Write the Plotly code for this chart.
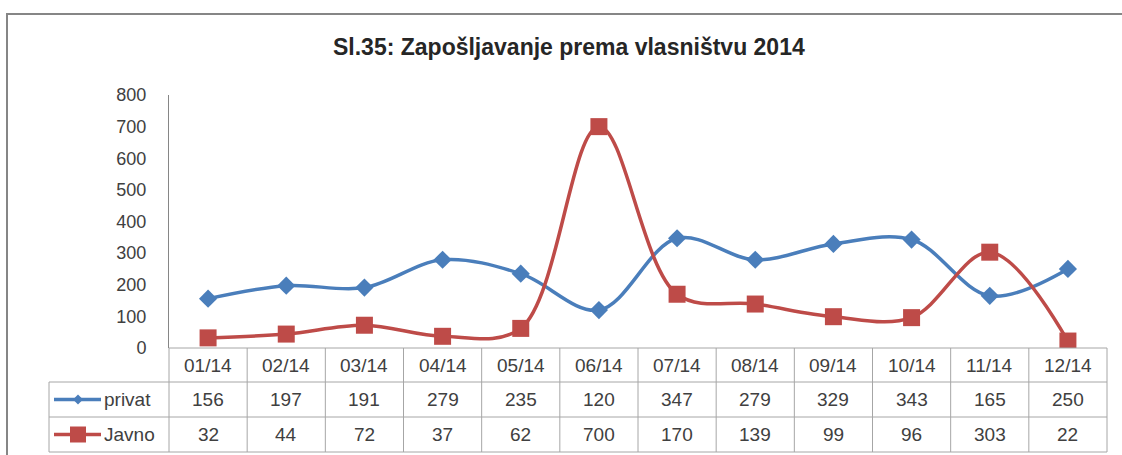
import plotly.graph_objects as go

categories = ["01/14", "02/14", "03/14", "04/14", "05/14", "06/14",
              "07/14", "08/14", "09/14", "10/14", "11/14", "12/14"]
privat = [156, 197, 191, 279, 235, 120, 347, 279, 329, 343, 165, 250]
javno = [32, 44, 72, 37, 62, 700, 170, 139, 99, 96, 303, 22]
series_names = ["privat", "Javno"]
y_ticks = [0, 100, 200, 300, 400, 500, 600, 700, 800]

W, H = 1122, 455
PL, PR, PT, PB = 169, 1107, 95, 348  # plot area pixels
BLUE = "#4A7EBB"
RED = "#BE4B48"
GRID = "#A6A6A6"
TXT = "#404040"
FONT = "Liberation Sans"


def px_x(px):
    return (px - PL) / (PR - PL)


def px_y(py):
    return (PB - py) / (PB - PT)


fig = go.Figure()
fig.add_trace(go.Scatter(
    x=categories, y=privat, name=series_names[0], mode="lines+markers",
    line=dict(color=BLUE, width=3.5, shape="spline", smoothing=1),
    marker=dict(symbol="diamond", size=14, color=BLUE),
))
fig.add_trace(go.Scatter(
    x=categories, y=javno, name=series_names[1], mode="lines+markers",
    line=dict(color=RED, width=3.5, shape="spline", smoothing=1),
    marker=dict(symbol="square", size=17, color=RED),
))

shapes = []
annotations = []

# outer frame
shapes.append(dict(type="rect", xref="paper", yref="paper",
                   x0=px_x(7), x1=px_x(1135), y0=px_y(470), y1=px_y(14),
                   line=dict(color="#868686", width=2), fillcolor="rgba(0,0,0,0)",
                   layer="below"))

# table geometry
row_tops = [348, 382, 417, 452]
col_w = (PR - PL) / len(categories)
shapes.append(dict(type="line", xref="paper", yref="paper",
                   x0=px_x(PL), x1=px_x(PR), y0=px_y(348), y1=px_y(348),
                   line=dict(color=GRID, width=1)))
for yy in row_tops[1:]:
    shapes.append(dict(type="line", xref="paper", yref="paper",
                       x0=px_x(49), x1=px_x(PR), y0=px_y(yy), y1=px_y(yy),
                       line=dict(color=GRID, width=1)))
for i in range(len(categories) + 1):
    xx = PL + i * col_w
    shapes.append(dict(type="line", xref="paper", yref="paper",
                       x0=px_x(xx), x1=px_x(xx), y0=px_y(348), y1=px_y(452),
                       line=dict(color=GRID, width=1)))
shapes.append(dict(type="line", xref="paper", yref="paper",
                   x0=px_x(49), x1=px_x(49), y0=px_y(382), y1=px_y(452),
                   line=dict(color=GRID, width=1)))

TFONT = dict(family=FONT, size=19, color=TXT)
for c in categories:
    annotations.append(dict(x=c, xref="x", y=px_y(365), yref="paper",
                            xanchor="center", yanchor="middle",
                            text=c, showarrow=False, font=TFONT))
row_centers = [399.5, 434.5]
for vals, yc in zip([privat, javno], row_centers):
    for c, v in zip(categories, vals):
        annotations.append(dict(x=c, xref="x", y=px_y(yc), yref="paper",
                                xanchor="center", yanchor="middle",
                                text=str(v), showarrow=False, font=TFONT))

# legend keys
for name, col, yc, sym in zip(series_names, [BLUE, RED], row_centers, ["d", "s"]):
    shapes.append(dict(type="line", xref="paper", yref="paper",
                       x0=px_x(54), x1=px_x(101), y0=px_y(yc), y1=px_y(yc),
                       line=dict(color=col, width=3.5)))
    cx = 78
    if sym == "d":
        r = 5
        path = (f"M {px_x(cx - r)} {px_y(yc)} L {px_x(cx)} {px_y(yc - r)} "
                f"L {px_x(cx + r)} {px_y(yc)} L {px_x(cx)} {px_y(yc + r)} Z")
    else:
        r = 8
        path = (f"M {px_x(cx - r)} {px_y(yc - r)} L {px_x(cx + r)} {px_y(yc - r)} "
                f"L {px_x(cx + r)} {px_y(yc + r)} L {px_x(cx - r)} {px_y(yc + r)} Z")
    shapes.append(dict(type="path", xref="paper", yref="paper", path=path,
                       fillcolor=col, line=dict(color=col, width=0)))
    annotations.append(dict(x=px_x(102), xref="paper", y=px_y(yc), yref="paper",
                            text=name, showarrow=False, xanchor="left",
                            yanchor="middle", font=TFONT))

# title
annotations.append(dict(x=px_x(569), xref="paper", y=px_y(47), yref="paper",
                        xanchor="center", yanchor="middle",
                        text="<b>Sl.35: Zapošljavanje prema vlasništvu 2014</b>",
                        showarrow=False,
                        font=dict(family=FONT, size=23, color="#262626")))

fig.update_layout(
    width=W, height=H,
    margin=dict(l=PL, r=W - PR, t=PT, b=H - PB, pad=0),
    paper_bgcolor="white", plot_bgcolor="white",
    showlegend=False,
    shapes=shapes, annotations=annotations,
    xaxis=dict(type="category", range=[-0.5, 11.5], showticklabels=False,
               showgrid=False, zeroline=False, showline=False, ticks=""),
    yaxis=dict(range=[0, 800], tickvals=y_ticks, showgrid=False, zeroline=False,
               showline=True, linecolor="#868686", linewidth=1, ticks="",
               ticklabelstandoff=18,
               tickfont=dict(family=FONT, size=18, color=TXT)),
)

fig.write_html("out.html", config={"displayModeBar": False},
               post_script="document.body.style.margin='0';document.body.style.overflow='hidden';")
